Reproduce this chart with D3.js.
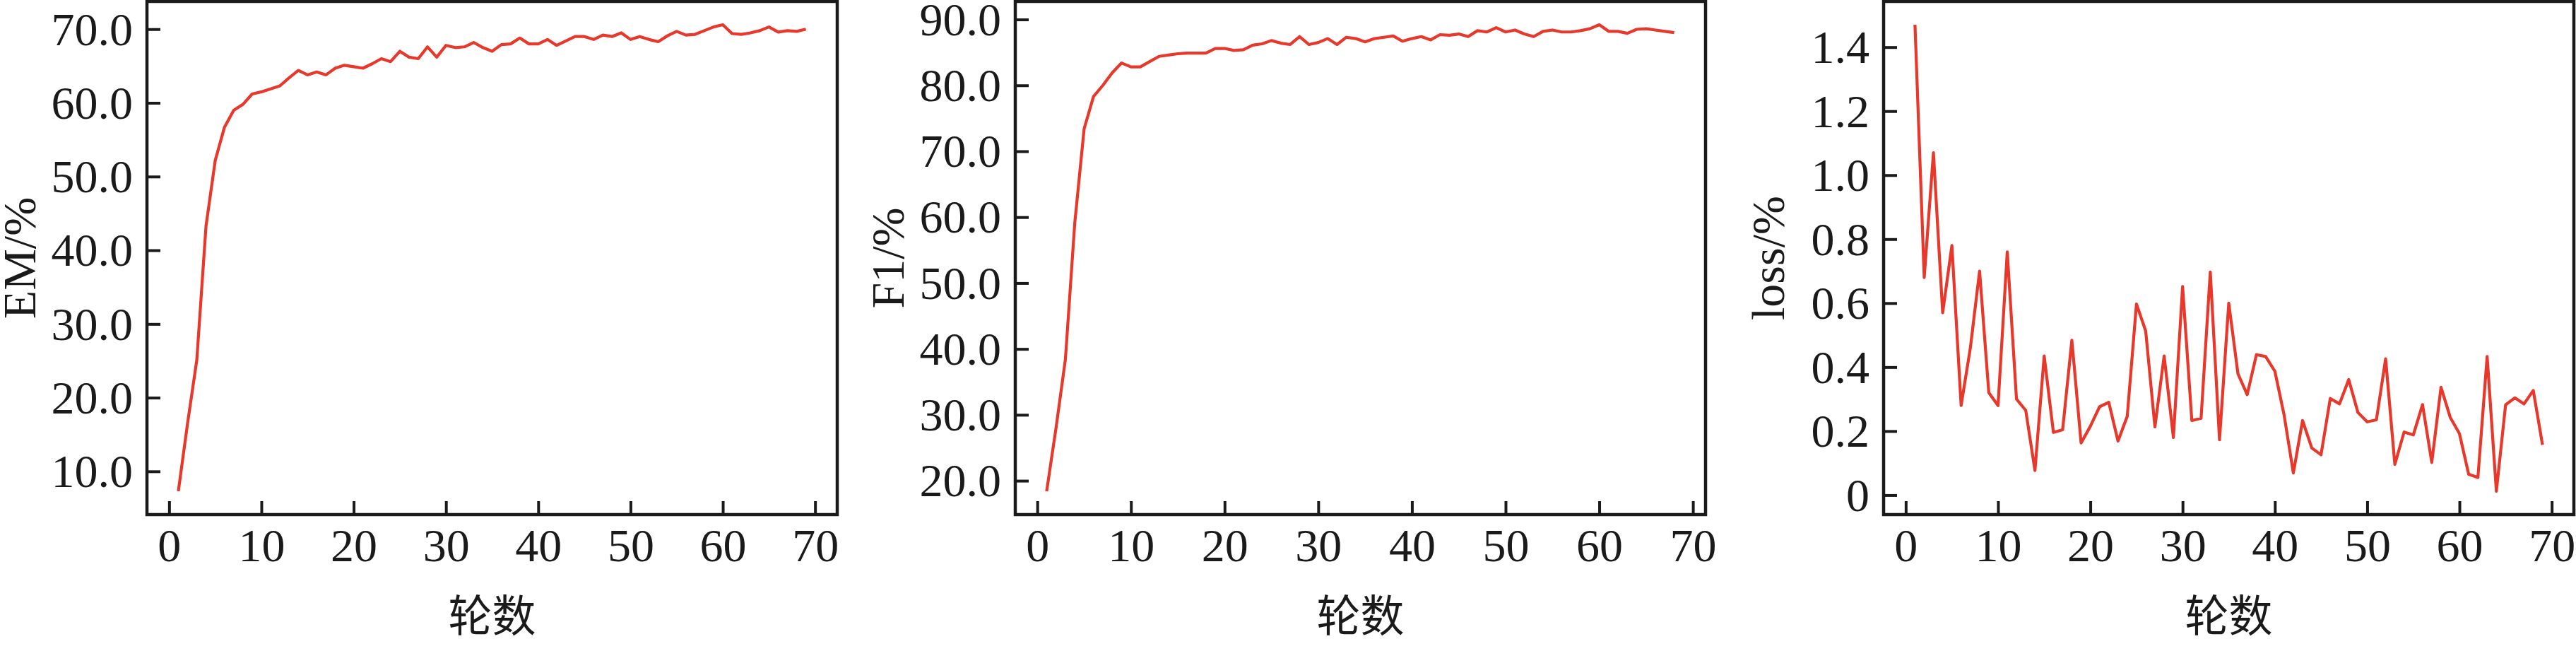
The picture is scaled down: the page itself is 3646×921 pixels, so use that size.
<!DOCTYPE html>
<html>
<head>
<meta charset="utf-8">
<script src="https://cdn.jsdelivr.net/npm/d3@7/dist/d3.min.js"></script>
<style>
body { margin: 0; background: white; }
</style>
</head>
<body>
<div class="figura"></div>
<script>
// valores (epoca 1..n)
let em = [7.3, 16.5, 25.1, 43.3, 52.2, 56.7, 59.0, 59.8, 61.2, 61.5,
    61.9, 62.3, 63.4, 64.4, 63.8, 64.2, 63.8, 64.7, 65.1, 64.9,
    64.7, 65.3, 66.0, 65.6, 67.0, 66.2, 66.0, 67.6, 66.2, 67.8,
    67.5, 67.6, 68.2, 67.5, 67.0, 67.9, 68.0, 68.8, 68.0, 68.0,
    68.6, 67.8, 68.4, 69.0, 69.0, 68.6, 69.2, 69.0, 69.5, 68.6,
    69.0, 68.6, 68.3, 69.1, 69.7, 69.2, 69.3, 69.8, 70.3, 70.6,
    69.4, 69.3, 69.5, 69.8, 70.3, 69.6, 69.8, 69.7, 70.0]

let f1 = [18.4, 28.0, 38.4, 59.1, 73.4, 78.3, 80.0, 81.9, 83.4, 82.8,
    82.8, 83.6, 84.4, 84.6, 84.8, 84.9, 84.9, 84.9, 85.6, 85.6,
    85.3, 85.4, 86.1, 86.3, 86.8, 86.4, 86.2, 87.4, 86.2, 86.5,
    87.1, 86.2, 87.3, 87.1, 86.6, 87.1, 87.3, 87.5, 86.7, 87.1,
    87.4, 86.9, 87.7, 87.6, 87.8, 87.4, 88.3, 88.1, 88.75, 88.1,
    88.4, 87.8, 87.4, 88.2, 88.4, 88.1, 88.1, 88.3, 88.6, 89.2,
    88.2, 88.2, 87.9, 88.5, 88.6, 88.4, 88.2, 88.0]

let loss = [1.47, 0.68, 1.07, 0.57, 0.78, 0.28, 0.46, 0.70, 0.32, 0.28,
    0.76, 0.30, 0.265, 0.077, 0.435, 0.196, 0.204, 0.484, 0.163, 0.215,
    0.276, 0.29, 0.169, 0.246, 0.597, 0.513, 0.213, 0.435, 0.18, 0.652,
    0.233, 0.24, 0.697, 0.173, 0.60, 0.379, 0.314, 0.439, 0.433, 0.387,
    0.25, 0.069, 0.233, 0.147, 0.126, 0.302, 0.285, 0.361, 0.258, 0.229,
    0.235, 0.426, 0.096, 0.197, 0.188, 0.283, 0.102, 0.337, 0.243, 0.192,
    0.065, 0.055, 0.433, 0.012, 0.282, 0.304, 0.285, 0.327, 0.157]

let ticks_x = [0, 10, 20, 30, 40, 50, 60, 70]
let ticks_em = [10, 20, 30, 40, 50, 60, 70]
let ticks_f1 = [20, 30, 40, 50, 60, 70, 80, 90]
let ticks_loss = [0, 0.2, 0.4, 0.6, 0.8, 1.0, 1.2, 1.4]
let rotulos_y = ['EM/%', 'F1/%', 'loss/%']
let rotulo_x = '轮数'

let largura = 3646, altura = 921
let topo = 2, base = 728
let vermelho = '#e8382b'
let fonte = '"Liberation Serif", "Times New Roman", serif'

svg = d3.select('.figura').append('svg')
    .attr('width', largura)
    .attr('height', altura)
    .style('display', 'block')

function formatoLoss(d) {
    return d === 0 ? '0' : d3.format('.1f')(d)
}

function painel(valores, ticks_y, formato, esquerda, rotulo, recuo) {
    let direita = esquerda + 977
    let g = svg.append('g')

    // margem de 5% como no matplotlib
    let n = valores.length
    let x = d3.scaleLinear()
        .domain([1 - 0.05 * (n - 1), n + 0.05 * (n - 1)])
        .range([esquerda, direita])
    let ext = d3.extent(valores)
    let pad = (ext[1] - ext[0]) * 0.05
    let y = d3.scaleLinear()
        .domain([ext[0] - pad, ext[1] + pad])
        .range([base, topo])

    let linha = d3.line()
        .x((d, i) => x(i + 1))
        .y(d => y(d))

    g.append('path')
        .datum(valores)
        .attr('d', linha)
        .attr('fill', 'none')
        .attr('stroke', vermelho)
        .attr('stroke-width', 4.2)
        .attr('stroke-linejoin', 'round')

    let eixoX = g.append('g')
        .attr('transform', 'translate(0,' + base + ')')
        .call(d3.axisBottom(x).tickValues(ticks_x).tickSize(-19).tickSizeOuter(0).tickPadding(0))
    eixoX.selectAll('text')
        .attr('y', 66)
        .attr('dy', null)

    let eixoY = g.append('g')
        .attr('transform', 'translate(' + esquerda + ',0)')
        .call(d3.axisLeft(y).tickValues(ticks_y).tickFormat(formato).tickSize(-19).tickSizeOuter(0).tickPadding(20))
    eixoY.selectAll('text').attr('dy', '0.33em')

    g.selectAll('.domain').remove()
    g.selectAll('.tick line')
        .attr('stroke', '#1a1a1a')
        .attr('stroke-width', 4)
    g.selectAll('.tick text')
        .attr('fill', '#1a1a1a')
        .style('font-family', fonte)
        .style('font-size', '66px')

    g.append('rect')
        .attr('x', esquerda)
        .attr('y', topo)
        .attr('width', direita - esquerda)
        .attr('height', base - topo)
        .attr('fill', 'none')
        .attr('stroke', '#1a1a1a')
        .attr('stroke-width', 4.5)

    g.append('text').text(rotulo)
        .attr('transform', 'translate(' + (esquerda - recuo) + ',' + ((topo + base) / 2) + ') rotate(-90)')
        .attr('text-anchor', 'middle')
        .attr('fill', '#1a1a1a')
        .style('font-family', fonte)
        .style('font-size', '66px')

    g.append('text').text(rotulo_x)
        .attr('x', (esquerda + direita) / 2)
        .attr('y', 867)
        .attr('dominant-baseline', 'central')
        .attr('text-anchor', 'middle')
        .attr('fill', '#1a1a1a')
        .style('font-family', '"Noto Sans CJK SC", sans-serif')
        .style('font-size', '62px')
}

painel(em, ticks_em, d3.format('.1f'), 208, rotulos_y[0], 158)
painel(f1, ticks_f1, d3.format('.1f'), 1437, rotulos_y[1], 158)
painel(loss, ticks_loss, formatoLoss, 2666, rotulos_y[2], 141)
</script>
</body>
</html>
